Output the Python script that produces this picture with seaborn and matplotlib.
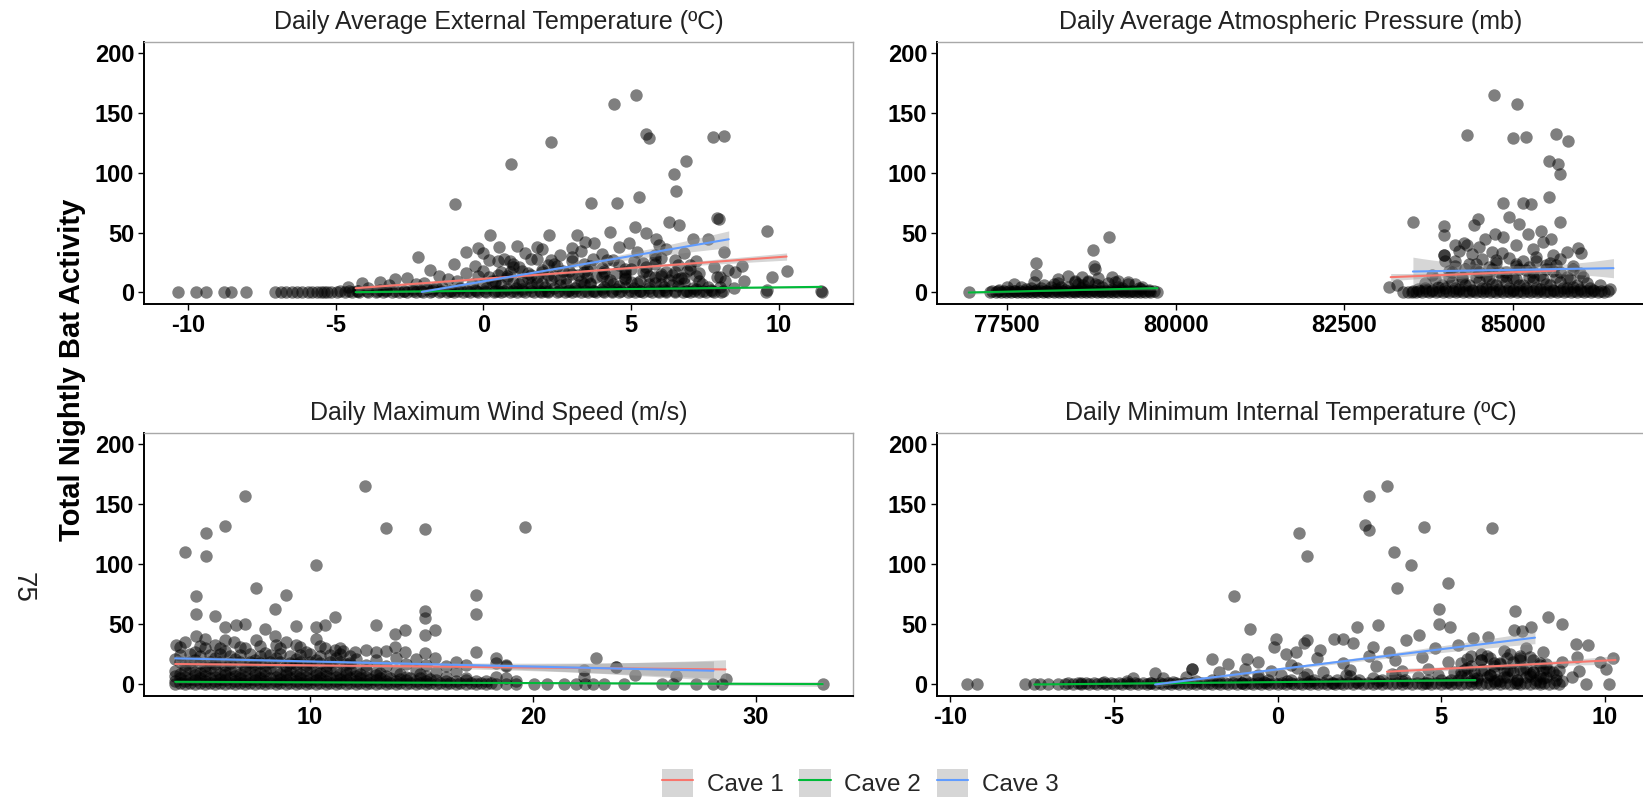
import numpy as np
import pandas as pd
import matplotlib
matplotlib.use("Agg")
import matplotlib.pyplot as plt
import seaborn as sns
from matplotlib.patches import Patch
from matplotlib.lines import Line2D
from matplotlib.legend_handler import HandlerTuple

# ---------------- data ----------------
caves = ["Cave 1", "Cave 2", "Cave 3"]
cave_colors = ["#F8766D", "#00BA38", "#619CFF"]
titles = ["Daily Average External Temperature (\u00baC)",
          "Daily Average Atmospheric Pressure (mb)",
          "Daily Maximum Wind Speed (m/s)",
          "Daily Minimum Internal Temperature (\u00baC)"]
y_label = "Total Nightly Bat Activity"
y_ticks = [0, 50, 100, 150, 200]
x_ticks_A = [-10, -5, 0, 5, 10]
x_ticks_B = [77500, 80000, 82500, 85000]
x_ticks_C = [10, 20, 30]
x_ticks_D = [-10, -5, 0, 5, 10]

# Panel A: external temperature
A_zero_x = [-10.36, -9.74, -9.4, -8.8, -8.54, -8.05, -7.07, -6.87, -6.7, -6.5, -6.3, -6.15, -5.95, -5.8,
            -5.65, -5.5, -5.4, -5.3, -5.15, -4.95, -4.7, -4.45, -4.2, -3.9, -3.65, -3.4, -3.1, -2.85, -2.6,
            -2.3, -2.05, -1.8, -1.5, -1.25, -1.0, -0.7, -0.45, -0.2, 0.1, 0.35, 0.6, 0.9, 1.15, 1.4, 1.7,
            1.95, 2.2, 2.5, 2.75, 3.0, 3.3, 3.55, 3.8, 4.1, 4.35, 4.6, 4.9, 5.15, 5.4, 5.7, 5.95, 6.2, 6.5,
            6.75, 7.0, 7.3, 7.55, 7.8, 8.05, 9.56, 11.48]
A_low_x = [-4.85, -4.55, -4.25, -3.95, -3.6, -3.3, -3.0, -2.7, -2.4, -2.1, -1.75, -1.45, -1.15, -0.85, -0.55,
           -0.25, 0.05, 0.4, 0.7, 1.0, 1.3, 1.6, 1.9, 2.2, 2.55, 2.85, 3.15, 3.45, 3.75, 4.05, 4.35, 4.65,
           5.0, 5.3, 5.6, 5.9, 6.2, 6.5, 6.85, 7.15, 7.45, 7.75, 8.1]
A_pts_x = [-4.3, -3.5, -2.7, -1.9, -1.1, -0.3, 0.5, 1.3, 2.1, 2.9, 3.7, 4.5, 5.3, 6.1, 6.9, 7.7,
           -4.6, -3.9, -3.2, -2.4, -1.6, -0.8, 0.0, 0.8, 1.6, 2.4, 3.2, 4.0, 4.8, 5.6, 6.4, 7.2, 8.0, 8.5,
           -4.1, -3.5, -2.0, -1.2, -0.4, 0.4, 1.0, 1.8, 2.6, 3.4, 4.2, 5.0, 5.8, 6.6, 7.4, 8.2,
           -3.0, -2.6, -1.5, -0.6, 0.2, 0.9, 1.5, 2.2, 2.9, 3.5, 4.1, 4.8, 5.4, 6.0, 6.7, 7.3, 8.0,
           -1.8, -1.0, -0.3, 0.5, 1.2, 1.8, 2.4, 3.0, 3.6, 4.2, 4.8, 5.4, 6.0, 6.6, 7.2, 7.8, 8.3,
           -0.6, 0.0, 0.7, 1.4, 1.8, 2.0, 2.6, 3.0, 3.3, 4.0, 4.6, 5.2, 5.8, 6.2, 6.8,
           5.17, 4.42, 2.3, 5.5, 5.6, 7.79, 8.15, 0.92, 6.86, 6.47, 6.54, -0.96, 3.65, 4.53, 5.26,
           7.9, 7.97, 6.29, 6.61, 5.12, 9.6, 0.22, 2.23, 3.16, 4.28, 5.5, 5.86, 7.11, 7.61, 8.15,
           3.45, 3.74, 4.92, 5.94, 0.51, 1.12, -0.17, -2.21, 8.76, 10.27, 9.77, 9.59, 11.45, 8.83, 8.52,
           0.1, 0.6, 1.1, 1.6, 2.1, 2.6, 3.1, 3.6, 4.1, 4.6, 5.1, 5.6, 6.1, 6.6, 7.1,
           0.3, 0.8, 1.3, 1.8, 2.3, 2.8, 3.3, 3.8, 4.3, 4.8, 5.3, 5.8, 6.3, 6.8, 7.3,
           0.0, 0.5, 1.0, 1.5, 2.0, 2.5, 3.0, 3.5, 4.0, 4.5, 5.0, 5.5, 6.0, 6.5, 7.0,
           -1.4, -0.9, -2.3, -0.2, 7.6, 7.9, -1.7, -3.3,
           0.4, 1.2, 2.0, 2.8, 3.6, 4.4, 5.2, 6.0, 6.8, 0.8, 1.6, 2.4, 3.2, 4.0, 4.8, 5.6, 6.4, 7.2,
           1.0, 2.2, 3.4, 4.6, 5.8, 7.0,
           0.2, 0.9, 1.6, 2.3, 3.0, 3.7, 4.4, 5.1, 5.8, 6.5, 0.6, 1.3, 2.0, 2.7, 3.4, 4.1, 4.8, 5.5, 6.2, 6.9]
A_pts_y = [1.5, 2, 1, 2.5, 1.5, 2, 1, 2.5, 1.5, 2, 1, 2.5, 1.5, 2, 1, 2,
           5, 4, 6, 3, 5, 4, 6, 3, 5, 4, 6, 3, 5, 4, 6, 3, 5, 4,
           8, 9, 8, 11, 7, 10, 9, 8, 11, 7, 10, 9, 8, 11, 7, 10,
           11, 12, 14, 16, 13, 17, 12, 15, 18, 13, 16, 12, 17, 14, 12, 16, 13,
           19, 24, 22, 26, 21, 28, 24, 30, 22, 27, 20, 25, 29, 23, 26, 21, 19,
           34, 33, 28, 33, 38, 36, 31, 37, 35, 32, 38, 34, 31, 36, 33,
           164.7, 157, 125.8, 132, 129, 130, 130.5, 107, 110, 99, 85, 74, 75, 75, 80,
           62.5, 61, 59, 56, 55, 51, 48, 48, 48, 50.5, 50, 45, 45, 45, 34,
           42.5, 41.7, 41, 40, 38, 39, 37, 29.4, 21.7, 18.3, 12.8, 2.2, 1.1, 10, 17.5,
           4, 6.5, 3.5, 7, 4.5, 6, 3.8, 6.8, 4.2, 5.5, 3.6, 7.2, 4.4, 5.8, 3.9,
           10, 12.5, 9.5, 13, 10.5, 12, 9.8, 12.8, 10.2, 11.5, 9.6, 13.2, 10.4, 11.8, 9.9,
           18, 15, 21, 16, 19, 22, 15.5, 18.5, 20.5, 16.5, 19.5, 21.5, 15.2, 17.5, 20,
           5, 10, 7, 14, 5, 13, 3, 2,
           8, 7, 8, 7, 8, 7, 8, 7, 8, 14, 15, 14, 15, 14, 15, 14, 15, 14,
           24, 23, 24, 23, 24, 23,
           27, 26, 28, 27, 26, 28, 27, 26, 28, 27, 17, 18, 17, 18, 17, 18, 17, 18, 17, 18]

# Panel B: atmospheric pressure
B_zero_x = [76931, 77246, 77330, 77410, 77480, 77560, 77640, 77720, 77800, 77870, 77950, 78030, 78110,
            78190, 78270, 78350, 78430, 78510, 78590, 78670, 78750, 78830, 78910, 78990, 79070, 79150,
            79230, 79310, 79390, 79470, 79550, 79620, 79730,
            83380, 83500, 83450, 83560, 83660, 83760, 83860, 83960, 84060, 84160, 84260, 84360, 84460,
            84560, 84660, 84760, 84860, 84960, 85060, 85160, 85260, 85360, 85460, 85560, 85660, 85760,
            85860, 85960, 86060, 86160, 86260, 86360]
B_low_x = [77280, 77370, 77450, 77530, 77610, 77690, 77770, 77840, 77920, 78000, 78080, 78160, 78240, 78320,
           78400, 78480, 78560, 78640, 78720, 78800, 78880, 78960, 79040, 79120, 79200, 79280, 79360, 79440,
           79520, 79600, 79680,
           83520, 83610, 83710, 83810, 83910, 84010, 84110, 84210, 84310, 84410, 84510, 84610, 84710, 84810,
           84910, 85010, 85110, 85210, 85310, 85410, 85510, 85610, 85710, 85810, 85910, 86010, 86110, 86210,
           86310, 86410]
B_pts_x = [77380, 77600, 77780, 77930, 78080, 78220, 78360, 78500, 78640, 78780, 78920, 79060, 79200, 79340, 79480, 79600,
           77500, 77850, 78050, 78150, 78250, 78400, 78550, 78620, 78700, 78850, 79000, 79150, 79300, 79450,
           77930, 78250, 78400, 78500, 78610, 78700, 78850, 79050, 79150, 79300,
           79015, 78780, 78790, 78810, 77930,
           83170, 83290, 86450, 83600, 83800, 84000, 84200, 84400, 84600, 84800, 85000, 85200, 85400, 85600, 85800, 86000, 86200,
           83700, 83900, 84100, 84300, 84500, 84700, 84900, 85100, 85300, 85500, 85700, 85900, 86100, 86300,
           83800, 84050, 84150, 84250, 84450, 84600, 84800, 84900, 85000, 85200, 85300, 85400, 85500, 85600, 85800, 86000,
           84000, 84350, 84550, 84650, 84750, 84950, 85050, 85150, 85250, 85350, 85550, 85700, 85900,
           83980, 84200, 84330, 84400, 84500, 84700, 84850, 85050, 85300, 85450, 85600, 85800,
           84730, 85060, 84330, 85000, 85200, 85645, 85820, 85545, 85675, 85700, 85535, 84860, 85160, 85270, 83515,
           85700, 84485, 84420, 84940, 85100, 83975, 83975, 85230, 85420, 84590, 84745, 85575, 84860, 84285, 84145,
           85975, 86015, 83975,
           77700, 78000, 78300, 78600, 78900, 79200, 79500, 77600, 77900, 78200, 78500, 78800, 79100, 79400,
           83700, 83950, 84150, 84350, 84550, 84750, 84950, 85150, 85350, 85550, 85750, 85950, 86150,
           83850, 84050, 84250, 84450, 84650, 84850, 85050, 85250, 85450, 85650, 85850, 86050,
           84100, 84300, 84500, 84700, 84900, 85100, 85300, 85500, 85700, 85900,
           84150, 84450, 84750, 85050, 85350, 85650]
B_pts_y = [2, 1.5, 3, 2, 1.5, 3, 2, 1.5, 3, 2, 1.5, 3, 2, 1.5, 3, 2,
           5, 4, 6, 5, 8, 5, 7, 6, 9, 6, 8, 5, 7, 4,
           14.4, 11, 14, 10, 13, 10, 12, 13, 10, 9,
           46, 35.5, 22, 20, 25,
           5, 6, 3, 3, 2, 4, 3, 2, 4, 3, 2, 4, 3, 2, 4, 3, 2,
           8, 5, 9, 6, 10, 7, 9, 6, 10, 7, 9, 5, 8, 6,
           15, 18, 22, 13, 19, 14, 17, 14, 12, 19, 13, 15, 23, 18, 13, 16,
           26, 24, 28, 21, 25, 29, 22, 26, 21, 30, 25, 28, 22,
           31, 35, 40, 32, 38, 34, 33, 40, 36, 42, 31, 34,
           164.7, 157, 131, 129, 130, 132, 126, 110, 107, 99, 80, 75, 75, 74, 58.6,
           59, 61, 56, 63, 57, 55.5, 48, 49, 51, 45, 49, 45, 46.7, 41, 40,
           37, 33, 31,
           4.5, 3.5, 4.5, 3.5, 4.5, 3.5, 4.5, 7.5, 8.5, 7.5, 8.5, 7.5, 8.5, 7.5,
           4, 6, 4, 6, 4, 6, 4, 6, 4, 6, 4, 6, 4,
           11, 13, 11, 13, 11, 13, 11, 13, 11, 13, 11, 13,
           17, 20, 17, 20, 17, 20, 17, 20, 17, 20,
           26, 24, 27, 24, 26, 23]

# Panel C: wind speed
C_zero_x = [3.95, 4.4, 4.85, 5.3, 5.75, 6.2, 6.65, 7.1, 7.55, 8.0, 8.45, 8.9, 9.35, 9.8, 10.25, 10.7, 11.15,
            11.6, 12.05, 12.5, 12.95, 13.4, 13.85, 14.3, 14.75, 15.2, 15.65, 16.1, 16.55, 17.0, 17.45, 17.9,
            18.35, 18.8, 19.25, 20.07, 20.62, 21.38, 21.92, 22.35, 22.7, 23.2, 24.1, 25.8, 26.3, 27.3, 28.1,
            28.5, 33.0]
C_low_x = [4.15, 4.6, 5.05, 5.5, 5.95, 6.4, 6.85, 7.3, 7.75, 8.2, 8.65, 9.1, 9.55, 10.0, 10.45, 10.9, 11.35,
           11.8, 12.25, 12.7, 13.15, 13.6, 14.05, 14.5, 14.95, 15.4, 15.85, 16.3, 16.75, 17.2, 17.65, 18.1]
C_pts_x = [3.95, 4.4, 4.85, 5.3, 5.75, 6.2, 6.65, 7.1, 7.55, 8.0, 8.45, 8.9, 9.35, 9.8, 10.25, 10.7, 11.15,
           11.6, 12.05, 12.5, 12.95, 13.4, 13.85, 14.3, 14.75, 15.2, 15.65, 16.1, 16.55, 17.0, 17.45, 17.9, 19.25, 22.3,
           3.95, 4.4, 4.85, 5.3, 5.75, 6.2, 6.65, 7.1, 7.55, 8.0, 8.45, 8.9, 9.35, 9.8, 10.25, 10.7, 11.15, 11.6,
           12.05, 12.5, 12.95, 13.4, 14.3, 15.2, 16.1, 17.0, 18.35, 18.8, 22.3, 24.59, 26.41,
           3.95, 4.4, 4.85, 5.3, 5.75, 6.2, 6.65, 7.1, 7.55, 8.0, 8.45, 8.9, 9.35, 9.8, 10.25, 10.7, 11.15, 11.6,
           12.05, 12.5, 12.95, 13.85, 14.75, 15.65, 16.55,
           4.4, 5.3, 5.75, 6.2, 7.1, 7.55, 8.0, 8.9, 9.35, 9.8, 10.7, 11.6, 12.5, 13.4, 14.3, 15.2, 16.1, 17.0, 18.78, 23.73,
           3.95, 4.85, 5.75, 6.65, 7.55, 8.45, 9.35, 10.25, 11.15, 12.05, 12.95, 13.85, 14.75, 15.62, 16.55, 18.35, 22.82,
           3.99, 4.4, 4.85, 4.88, 5.3, 5.3, 5.74, 6.2, 6.2, 6.6, 7.1, 7.56, 8.0, 8.42, 8.45, 8.92, 9.38, 9.8, 10.26,
           10.69, 11.1, 11.5, 12.0, 12.5, 12.94, 13.4, 13.83, 14.28, 15.14, 17.44,
           12.46, 7.08, 6.2, 5.31, 4.4, 5.31, 13.4, 15.17, 19.64, 10.26, 7.56, 8.92, 4.88, 17.44, 17.44,
           4.88, 8.42, 15.17, 15.17, 11.12, 5.74, 12.94, 14.28, 15.62, 13.83, 15.14, 7.99, 6.67, 7.08, 6.2,
           9.38, 10.26, 10.69, 23.73, 28.64, 18.35, 18.78,
           4.15, 4.6, 5.05, 5.5, 5.95, 6.4, 6.85, 7.3, 7.75, 8.2, 8.65, 9.1, 9.55, 10.0, 10.45, 10.9, 11.35, 11.8,
           12.25, 12.7, 13.15, 13.6, 14.05, 14.5, 14.95, 15.4,
           4.15, 5.05, 5.95, 6.85, 7.75, 8.65, 9.55, 10.45, 11.35, 12.25, 13.15, 14.05, 14.95,
           4.6, 5.5, 6.4, 7.3, 8.2, 9.1, 10.0, 10.9, 11.8,
           4.15, 4.6, 5.05, 5.5, 5.95, 6.4, 6.85, 7.3, 7.75, 8.2, 8.65, 9.1, 9.55, 10.0, 10.45, 10.9, 11.35, 11.8,
           4.15, 4.6, 5.05, 5.5, 5.95, 6.4, 6.85, 7.3, 7.75, 8.2, 8.65, 9.1, 9.55, 10.0, 10.45, 10.9, 11.35, 11.8,
           4.15, 5.05, 5.95, 6.85, 7.75, 8.65, 9.55, 10.45, 11.35]
C_pts_y = [3, 2.5, 3.5, 3, 2.5, 3.5, 3, 2.5, 3.5, 3, 2.5, 3.5, 3, 2.5, 3.5, 3, 2.5,
           3.5, 3, 2.5, 3.5, 3, 2.5, 3.5, 3, 2.5, 3.5, 3, 2.5, 3.5, 3, 2.5, 3, 6.4,
           7, 6, 8, 7, 6, 8, 7, 6, 8, 7, 6, 8, 7, 6, 8, 7, 6, 8,
           7, 6, 8, 7, 6, 7, 6, 5, 6, 5, 12, 7.8, 6.9,
           11, 12, 10, 11, 12, 10, 11, 12, 10, 11, 12, 10, 11, 12, 10, 11, 12, 10,
           11, 12, 10, 11, 12, 10, 11,
           16, 15, 17, 16, 15, 17, 16, 15, 17, 16, 15, 17, 16, 15, 17, 16, 15, 16, 16, 14.7,
           21, 20, 22, 21, 20, 22, 21, 20, 22, 21, 20, 22, 21, 22, 19, 21.7, 22.2,
           33, 35, 27, 40, 38, 30, 33, 37, 28, 35, 30, 37, 26, 40, 33, 35, 33, 27, 38,
           30, 29, 28, 27, 29, 27, 28, 31, 27, 26, 26.7,
           164.7, 156.7, 131.4, 125.8, 110, 107, 129.7, 128.9, 130.8, 98.9, 80, 74.4, 73.6, 74.4, 58.6,
           58.6, 62.5, 61.4, 55, 55.8, 57, 49.4, 45.3, 45.3, 41.7, 40.8, 45.8, 49.4, 50, 48,
           48.6, 48, 49.4, 14.7, 4.7, 18, 15,
           5, 4.5, 5.5, 5, 4.5, 5.5, 5, 4.5, 5.5, 5, 4.5, 5.5, 5, 4.5, 5.5, 5, 4.5, 5.5,
           5, 4.5, 5.5, 5, 4.5, 5.5, 5, 4.5,
           9, 9.5, 8.5, 9, 9.5, 8.5, 9, 9.5, 8.5, 9, 9.5, 8.5, 9,
           13.5, 14, 13, 13.5, 14, 13, 13.5, 14, 13,
           18.5, 19, 18, 18.5, 19, 18, 18.5, 19, 18, 18.5, 19, 18, 18.5, 19, 18, 18.5, 19, 18,
           24.5, 25, 24, 24.5, 25, 24, 24.5, 25, 24, 24.5, 25, 24, 24.5, 25, 24, 24.5, 25, 24,
           31, 32, 30, 31, 32, 30, 31, 32, 30]

# Panel D: minimum internal temperature
D_zero_x = [-9.49, -9.19, -7.7, -7.45, -7.25, -7.0, -6.7, -6.5, -6.25, -6.0, -5.75, -5.5, -5.25, -5.0, -4.75,
            -4.5, -4.25, -4.0, -3.75, -3.5, -3.25, -3.0, -2.75, -2.5, -2.25, -2.0, -1.75, -1.5, -1.25, -1.0,
            -0.75, -0.5, -0.25, 0.0, 0.25, 0.5, 0.75, 1.0, 1.25, 1.5, 1.75, 2.0, 2.3, 2.6, 2.9, 3.2, 3.5, 3.8,
            4.1, 4.4, 4.7, 5.0, 5.3, 5.6, 5.9, 6.2, 6.5, 6.8, 7.1, 7.4, 7.7, 8.0, 8.3, 8.6, 9.41, 10.11]
D_low_x = [-6.4, -6.1, -5.85, -5.6, -5.35, -5.1, -4.85, -4.6, -4.35, -4.1, -3.85, -3.6, -3.35, -3.1, -2.85,
           -2.6, -2.35, -2.1, -1.85, -1.6, -1.35, -1.1, -0.85, -0.6, -0.35, -0.1, 0.15, 0.4, 0.65, 0.9, 1.15,
           1.4, 1.65, 1.9, 2.15, 2.45, 2.75, 3.05, 3.35, 3.65, 3.95, 4.25, 4.55, 4.85, 5.15, 5.45, 5.75, 6.05,
           6.35, 6.65, 6.95, 7.25, 7.55, 7.85, 8.15, 8.45]
D_pts_x = [-6.0, -5.3, -4.6, -3.9, -3.2, -2.5, -1.8, -1.1, -0.4, 0.3, 1.0, 1.7, 2.4, 3.1, 3.8, 4.5, 5.2, 5.9, 6.6, 7.3, 8.0, 8.7,
           -4.4, -3.5, -2.8, -2.0, -1.3, -0.6, 0.1, 0.8, 1.5, 2.2, 2.9, 3.6, 4.3, 5.0, 5.6, 6.1, 6.5, 6.9, 7.3, 7.7, 8.1, 8.5, 9.0,
           -3.74, -2.6, -1.8, -1.0, -0.2, 0.6, 1.4, 2.2, 3.0, 3.8, 4.6, 5.4, 5.8, 6.2, 6.6, 7.0, 7.4, 7.8, 8.2, 8.6, 9.2, 10.03,
           -2.01, -1.5, -0.92, -0.6, 0.25, 0.4, 0.57, 1.2, 2.0, 2.8, 3.6, 4.4, 5.2, 5.8, 6.2, 6.6, 7.0, 7.4, 7.8, 8.2, 8.7, 9.13, 9.86, 10.25,
           -0.1, -0.06, 0.81, 0.89, 1.3, 1.71, 2.0, 2.31, 2.9, 3.4, 3.93, 4.31, 4.8, 5.5, 5.96, 6.43, 6.9, 7.6, 8.1, 9.1, 9.49,
           5.6, 5.9, 6.2, 6.5, 6.8, 7.1, 7.4, 7.7, 8.0, 8.3, 6.0, 6.4, 6.8, 7.2, 7.6, 8.0,
           3.34, 2.79, 2.66, 2.79, 4.47, 6.56, 0.65, 0.89, 3.55, 4.07, 5.21, 3.65, -1.32, 7.24, 8.26,
           4.94, 8.7, -0.84, 2.44, 3.07, 4.94, 5.28, 7.23, 7.73, 7.46, -2.6,
           5.5, 5.8, 6.1, 6.4, 6.7, 7.0, 7.3, 7.6, 7.9, 8.2, 8.5, 5.7, 6.0, 6.3, 6.6, 6.9, 7.2, 7.5, 7.8, 8.1, 8.4,
           5.6, 6.2, 6.8, 7.4, 8.0, 5.9, 6.5, 7.1, 7.7,
           -1.0, -0.3, 0.4, 1.1, 1.8, 2.5, 3.2, 3.9, 4.6, 5.3, -0.6, 0.9, 2.1, 3.5, 4.9]
D_pts_y = [1.5, 2, 2.5, 1.5, 2, 2.5, 3, 1.5, 2, 2.5, 3, 1.5, 2, 2.5, 3, 1.5, 2, 2.5, 3, 1.5, 2, 2.5,
           5, 5, 6, 4, 7, 5, 8, 6, 4, 7, 5, 8, 6, 4, 7, 5, 8, 6, 4, 7, 5, 8, 6,
           9.2, 12.5, 10, 13, 11, 14, 10, 12, 15, 11, 13, 10, 14, 12, 15, 11, 13, 10, 14, 12, 11, 12.5,
           20.8, 17, 21.4, 19, 25.3, 16, 27.2, 22, 18, 24, 20, 23, 19, 21, 25, 18, 22, 24, 20, 17, 19, 23, 18.9, 22.2,
           31.4, 37.5, 34.2, 37, 29, 38, 38, 34.2, 31, 27, 37, 41, 30, 33, 38.3, 39.7, 28, 30, 27, 33.6, 32.8,
           10, 15, 20, 8, 17, 12, 22, 9, 16, 11, 5, 24, 3, 19, 14, 7,
           164.7, 156.7, 132.2, 128.6, 130.8, 129.7, 125.8, 107, 109.7, 98.9, 84.7, 80, 73.6, 60.8, 55.8,
           62.8, 50, 45.8, 48, 49.4, 50.3, 47.5, 45.3, 48, 44.7, 12.5,
           4, 6, 4, 6, 4, 6, 4, 6, 4, 6, 4, 12, 10, 12, 10, 12, 10, 12, 10, 12, 10,
           18, 20, 18, 20, 18, 24, 22, 25, 23,
           3.5, 4, 3.5, 4, 3.5, 4, 3.5, 4, 3.5, 4, 8, 9, 8, 9, 8]

# Linear fits per cave (Cave 1, Cave 2, Cave 3): end points and CI half-widths (start, middle, end)
A_fit_x0 = [-4.33, -4.33, -2.09]; A_fit_x1 = [10.27, 11.45, 8.31]
A_fit_y0 = [3.6, 0.3, 0.5];       A_fit_y1 = [30.0, 4.7, 44.4]
A_fit_ci = [[2.0, 1.0, 3.0], [0.8, 0.4, 1.0], [2.0, 1.5, 7.0]]
B_fit_x0 = [83191, 76931, 83521]; B_fit_x1 = [85636, 79730, 86497]
B_fit_y0 = [12.8, 0.0, 17.5];     B_fit_y1 = [18.3, 3.6, 20.3]
B_fit_ci = [[3.0, 1.5, 2.5], [1.5, 0.5, 1.5], [12.0, 3.5, 8.0]]
C_fit_x0 = [3.95, 3.95, 3.95];    C_fit_x1 = [28.64, 33.0, 28.1]
C_fit_y0 = [17.0, 2.2, 21.7];     C_fit_y1 = [12.5, 0.3, 11.4]
C_fit_ci = [[2.5, 1.5, 8.0], [1.0, 0.5, 2.0], [2.5, 1.5, 8.0]]
D_fit_x0 = [3.34, -7.43, -3.74];  D_fit_x1 = [10.32, 6.04, 7.86]
D_fit_y0 = [10.6, 0.0, 0.0];      D_fit_y1 = [20.3, 3.6, 38.9]
D_fit_ci = [[2.5, 1.5, 3.5], [0.8, 0.4, 1.0], [2.0, 1.5, 5.0]]

# ---------------- style ----------------
sns.set_theme(style="white")
plt.rcParams["font.family"] = ["Liberation Sans", "DejaVu Sans"]

W, H = 1643, 799
fig = plt.figure(figsize=(W / 100, H / 100), dpi=100)

def frac(left, top, right, bottom):
    return [left / W, 1 - bottom / H, (right - left) / W, (bottom - top) / H]

panels = [
    dict(rect=frac(144, 42, 853, 304), xlim=(-11.5, 12.52), xt=x_ticks_A,
         zx=A_zero_x, lx=A_low_x, px=A_pts_x, py=A_pts_y,
         fx0=A_fit_x0, fx1=A_fit_x1, fy0=A_fit_y0, fy1=A_fit_y1, ci=A_fit_ci),
    dict(rect=frac(937, 42, 1644, 304), xlim=(76459, 86950), xt=x_ticks_B,
         zx=B_zero_x, lx=B_low_x, px=B_pts_x, py=B_pts_y,
         fx0=B_fit_x0, fx1=B_fit_x1, fy0=B_fit_y0, fy1=B_fit_y1, ci=B_fit_ci),
    dict(rect=frac(144, 433, 853, 696), xlim=(2.55, 34.36), xt=x_ticks_C,
         zx=C_zero_x, lx=C_low_x, px=C_pts_x, py=C_pts_y,
         fx0=C_fit_x0, fx1=C_fit_x1, fy0=C_fit_y0, fy1=C_fit_y1, ci=C_fit_ci),
    dict(rect=frac(937, 433, 1644, 696), xlim=(-10.4, 11.19), xt=x_ticks_D,
         zx=D_zero_x, lx=D_low_x, px=D_pts_x, py=D_pts_y,
         fx0=D_fit_x0, fx1=D_fit_x1, fy0=D_fit_y0, fy1=D_fit_y1, ci=D_fit_ci),
]

t = np.linspace(0, 1, 80)
L0 = 2 * (t - 0.5) * (t - 1)
L1 = -4 * t * (t - 1)
L2 = 2 * t * (t - 0.5)

for p, title in zip(panels, titles):
    ax = fig.add_axes(p["rect"])
    pts = pd.DataFrame({"x": list(p["zx"]) + list(p["lx"]) + list(p["px"]),
                        "y": [0.0] * len(p["zx"]) + [1.0] * len(p["lx"]) + list(p["py"])})
    sns.scatterplot(data=pts, x="x", y="y", ax=ax, color="black", alpha=0.5,
                    s=80, linewidth=0, zorder=2)
    for i, (cave, col) in enumerate(zip(caves, cave_colors)):
        x0, x1 = p["fx0"][i], p["fx1"][i]
        y0, y1 = p["fy0"][i], p["fy1"][i]
        h0, hm, h1 = p["ci"][i]
        xs = x0 + (x1 - x0) * t
        ys = y0 + (y1 - y0) * t
        hw = np.clip(h0 * L0 + hm * L1 + h1 * L2, 0.2, None)
        ax.fill_between(xs, ys - hw, ys + hw, color="#999999", alpha=0.4,
                        linewidth=0, zorder=3)
        line = pd.DataFrame({"x": [x0, x1], "y": [y0, y1]})
        sns.lineplot(data=line, x="x", y="y", ax=ax, color=col, linewidth=1.5,
                     zorder=4, legend=False)
    ax.set_xlim(*p["xlim"])
    ax.set_ylim(-9.6, 209)
    ax.set_xticks(p["xt"])
    ax.set_xticklabels([str(v) for v in p["xt"]])
    ax.set_yticks(y_ticks)
    ax.set_yticklabels([str(v) for v in y_ticks])
    ax.set_xlabel("")
    ax.set_ylabel("")
    for s in ["left", "bottom"]:
        ax.spines[s].set_color("black")
        ax.spines[s].set_linewidth(1.4)
    for s in ["top", "right"]:
        ax.spines[s].set_color("#a8a8a8")
        ax.spines[s].set_linewidth(1.0)
    ax.tick_params(axis="both", which="major", direction="out", length=4, width=1.0,
                   color="black", labelsize=17, labelcolor="black", pad=3,
                   left=True, bottom=True)
    for lab in ax.get_xticklabels() + ax.get_yticklabels():
        lab.set_fontweight("bold")
    ax.annotate(title, xy=(0.5, 1), xycoords="axes fraction", xytext=(0, 14.6),
                textcoords="offset points", ha="center", va="center",
                fontsize=18, color="#222222")

fig.text(72 / W, 1 - 370 / H, y_label, rotation=90, ha="center", va="center",
         fontsize=21, fontweight="bold", color="black")
fig.text(23 / W, 1 - 587 / H, "75", rotation=-90, ha="center", va="center",
         fontsize=20, color="#222222")

handles = [(Patch(facecolor="#d6d6d6", edgecolor="none"),
            Line2D([], [], color=c, linewidth=1.5)) for c in cave_colors]
fig.legend(handles, caves, loc="center", bbox_to_anchor=(860 / W, 1 - 783 / H), ncol=3,
           frameon=False, fontsize=17.5, handlelength=1.3, handleheight=1.45,
           handletextpad=0.55, columnspacing=0.65, borderaxespad=0, borderpad=0,
           handler_map={tuple: HandlerTuple(ndivide=1, pad=0)})

fig.savefig("out.png", dpi=100)
